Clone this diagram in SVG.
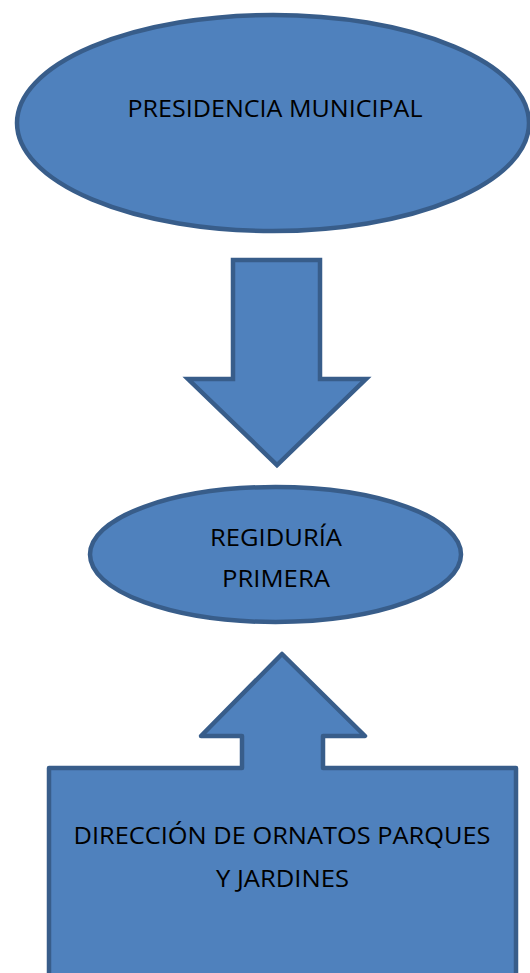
<svg xmlns="http://www.w3.org/2000/svg" width="530" height="973" viewBox="0 0 530 973">
<style>
.shape{fill:#4f81bd;stroke:#385d8a;stroke-width:4.5}
.lbl{font-family:"Open Sans","Liberation Sans",sans-serif;font-size:23px;fill:#000;text-anchor:middle}
</style>
<rect width="530" height="973" fill="#fff"/>
<g id="presidencia">
<ellipse class="shape" cx="273" cy="123" rx="256" ry="108"/>
<text class="lbl" x="275" y="117" textLength="295" lengthAdjust="spacingAndGlyphs">PRESIDENCIA MUNICIPAL</text>
</g>
<g id="connectors">
<path class="shape" stroke-linejoin="miter" d="M233,260 H320 V379 H366 L277,465 L188,379 H233 Z"/>
</g>
<g id="regiduria">
<ellipse class="shape" cx="275.5" cy="554.5" rx="185.5" ry="67.5"/>
<text class="lbl" x="276" y="546" textLength="132" lengthAdjust="spacingAndGlyphs">REGIDURÍA</text>
<text class="lbl" x="276" y="587" textLength="108" lengthAdjust="spacingAndGlyphs">PRIMERA</text>
</g>
<g id="direccion">
<path class="shape" stroke-linejoin="round" d="M49,768 H242 V736 H201 L282,654 L365,736 H323 V768 H516 V990 H49 Z"/>
<text class="lbl" x="282" y="844" textLength="417" lengthAdjust="spacingAndGlyphs">DIRECCIÓN DE ORNATOS PARQUES</text>
<text class="lbl" x="282.5" y="887" textLength="133" lengthAdjust="spacingAndGlyphs">Y JARDINES</text>
</g>
</svg>
